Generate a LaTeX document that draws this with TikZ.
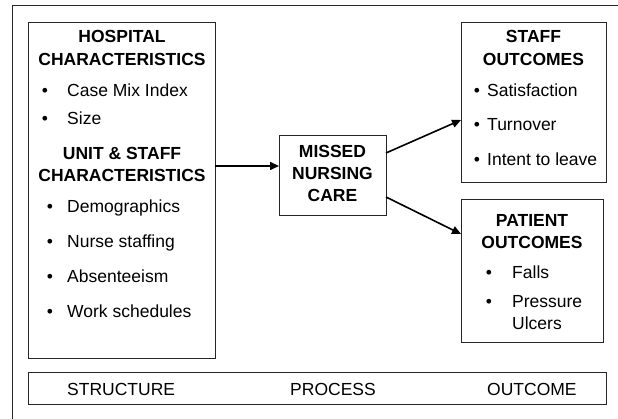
\documentclass[tikz,border=0pt]{standalone}
\usepackage{fontspec}
\setmainfont{Liberation Sans}
\usetikzlibrary{arrows.meta}
\begin{document}
\begin{tikzpicture}[x=1pt,y=-1pt,
  box/.style={draw=black!85,line width=0.9pt},
  txt/.style={inner sep=0pt,font=\fontsize{17.5}{20}\selectfont},
  hd/.style={txt,anchor=base,font=\fontsize{17.5}{20}\selectfont\bfseries},
  it/.style={txt,anchor=base west},
  bul/.style={txt,anchor=base},
  conn/.style={line width=1.6pt,-{Triangle[length=9pt,width=8pt]}}]
\useasboundingbox (0,0) rectangle (618,419);
% outer frame (open on right and bottom)
\draw[box] (12,5) rectangle (640,440);
% boxes
\node[box,minimum width=187pt,minimum height=336pt,anchor=north west,inner sep=0pt] (left) at (28,22) {};
\node[box,minimum width=107pt,minimum height=80pt,anchor=north west,inner sep=0pt] (mid) at (279,135) {};
\node[box,minimum width=145pt,minimum height=160pt,anchor=north west,inner sep=0pt] (staff) at (461,22) {};
\node[box,minimum width=142pt,minimum height=143pt,anchor=north west,inner sep=0pt] (pat) at (461,199) {};
\node[box,minimum width=578pt,minimum height=32pt,anchor=north west,inner sep=0pt] (bar) at (28,372) {};
% left box text
\node[hd] (h1) at (122,43) {HOSPITAL};
\node[hd] (h2) at (122,66) {CHARACTERISTICS};
\node[bul] (b1) at (45,97) {•};
\node[it] (t1) at (67,97) {Case Mix Index};
\node[bul] (b2) at (45,125) {•};
\node[it] (t2) at (67,125) {Size};
\node[hd] (h3) at (122,160) {UNIT \& STAFF};
\node[hd] (h4) at (122,182) {CHARACTERISTICS};
\node[bul] (b3) at (50,213) {•};
\node[it] (t3) at (67,213) {Demographics};
\node[bul] (b4) at (50,248) {•};
\node[it] (t4) at (67,248) {Nurse staffing};
\node[bul] (b5) at (50,283) {•};
\node[it] (t5) at (67,283) {Absenteeism};
\node[bul] (b6) at (50,318) {•};
\node[it] (t6) at (67,318) {Work schedules};
% middle
\node[hd] (m1) at (332.5,158) {MISSED};
\node[hd] (m2) at (332.5,180) {NURSING};
\node[hd] (m3) at (332.5,202) {CARE};
% staff
\node[hd] (s1) at (533.5,43) {STAFF};
\node[hd] (s2) at (533.5,66) {OUTCOMES};
\node[bul] (sb1) at (477,97) {•};
\node[it] (st1) at (487,97) {Satisfaction};
\node[bul] (sb2) at (477,131) {•};
\node[it] (st2) at (487,131) {Turnover};
\node[bul] (sb3) at (477,166) {•};
\node[it] (st3) at (487,166) {Intent to leave};
% patient
\node[hd] (p1) at (532,227) {PATIENT};
\node[hd] (p2) at (532,249) {OUTCOMES};
\node[bul] (pb1) at (489,279) {•};
\node[it] (pt1) at (512,279) {Falls};
\node[bul] (pb2) at (489,308) {•};
\node[it] (pt2) at (512,308) {Pressure};
\node[it] (pt3) at (512,330) {Ulcers};
% bar
\node[it] (c1) at (67,395) {STRUCTURE};
\node[it] (c2) at (290,395) {PROCESS};
\node[it] (c3) at (487,395) {OUTCOME};
% connectors
\coordinate (a1) at (215,166);
\draw[conn] (a1) -- (a1 -| mid.west);
\coordinate (a2s) at (386,153);
\coordinate (a2e) at (461,120);
\draw[conn] (a2s) -- (a2e);
\coordinate (a3s) at (386,197);
\coordinate (a3e) at (461,234);
\draw[conn] (a3s) -- (a3e);
\end{tikzpicture}
\end{document}
